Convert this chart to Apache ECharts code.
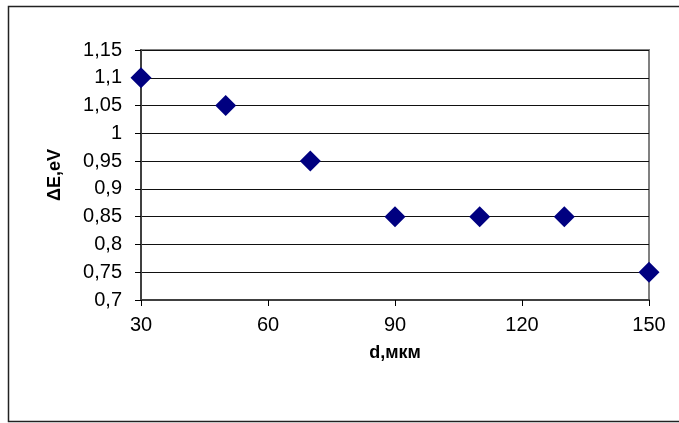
<!DOCTYPE html>
<html><head><meta charset="utf-8">
<script src="https://cdn.jsdelivr.net/npm/echarts@6/dist/echarts.min.js"></script>
<style>html,body{margin:0;padding:0;background:#fff}#c{width:679px;height:423px}</style>
</head><body><div id="c"></div>
<script>
var xValues = [30, 50, 70, 90, 110, 130, 150];
var yValues = [1.1, 1.05, 0.95, 0.85, 0.85, 0.85, 0.75];
var xTitle = 'd,мкм';
var yTitle = 'ΔE,eV';

var chart = echarts.init(document.getElementById('c'));
var fmt = function (v) { return String(Math.round(v * 100) / 100).replace('.', ','); };
chart.setOption({
  animation: false,
  backgroundColor: '#fff',
  graphic: [{
    type: 'rect', shape: {x: 8.5, y: 6.5, width: 700, height: 415},
    style: {fill: 'none', stroke: '#222', lineWidth: 1.5}, z: -1
  }],
  grid: {left: 141, right: 30, top: 50, bottom: 123, show: true,
         borderColor: '#808080', borderWidth: 2, backgroundColor: 'transparent'},
  xAxis: {
    type: 'value', min: 30, max: 150, interval: 30,
    name: xTitle, nameLocation: 'middle', nameGap: 44, nameMoveOverlap: false,
    nameTextStyle: {fontFamily: 'Liberation Sans', fontSize: 18, fontWeight: 'bold', color: '#000'},
    axisLine: {show: true, lineStyle: {color: '#404040', width: 2}},
    axisTick: {show: true, inside: false, length: 6, lineStyle: {color: '#000', width: 1}},
    axisLabel: {margin: 15, fontFamily: 'Liberation Sans', fontSize: 20, color: '#000'},
    splitLine: {show: false}
  },
  yAxis: {
    type: 'value', min: 0.7, max: 1.15, interval: 0.05,
    name: yTitle, nameLocation: 'middle', nameGap: 77, nameRotate: 90, nameMoveOverlap: false,
    nameTextStyle: {fontFamily: 'Liberation Sans', fontSize: 18, fontWeight: 'bold', color: '#000'},
    axisLine: {show: true, lineStyle: {color: '#404040', width: 2}},
    axisTick: {show: true, inside: false, length: 6, lineStyle: {color: '#000', width: 1}},
    axisLabel: {margin: 19, fontFamily: 'Liberation Sans', fontSize: 20, color: '#000', formatter: fmt},
    splitLine: {show: true, lineStyle: {color: '#111', width: 1}}
  },
  series: [{
    type: 'scatter',
    data: xValues.map(function (x, i) { return [x, yValues[i]]; }),
    symbol: 'diamond', symbolSize: 21,
    itemStyle: {color: '#000080', opacity: 1}
  }]
});
</script></body></html>
